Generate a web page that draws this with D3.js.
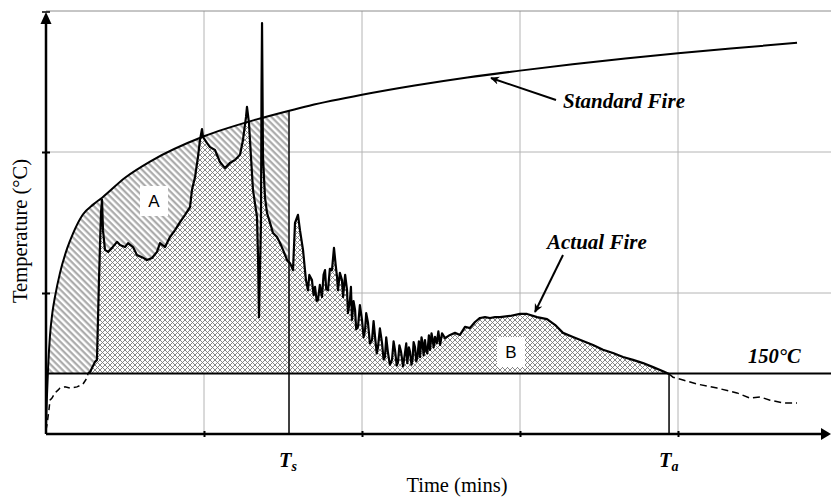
<!DOCTYPE html>
<html>
<head>
<meta charset="utf-8">
<script src="https://cdn.jsdelivr.net/npm/d3@7"></script>
<style>
  html, body { margin: 0; padding: 0; background: #fff; }
  svg { display: block; }
</style>
</head>
<body>
<svg id="chart" width="831" height="497"></svg>
<script>
// ---------------- data ----------------
const xTicks = [15, 30, 45, 60];          // minutes (unlabelled ticks)
const yTicks = [350, 700, 1050];          // °C (unlabelled ticks)
const limitTemp = 150;                    // 150°C threshold
const tS = 23.07;                         // T_s
const tA = 59.15;                         // T_a
const solidStart = 3.99;                  // actual fire drawn solid from here to T_a

const stdTime = [0, 0.1, 0.2, 0.38, 0.6, 0.85, 1.33, 2, 2.6, 3.5, 4.5, 5.3, 7.5, 10, 15, 20, 23, 25, 30, 35, 40, 45, 50, 55, 60, 65, 71.3];
const stdTemp = [20, 100, 165, 245, 300, 340, 400, 460, 500, 545, 570, 586, 636, 678, 739, 781, 802, 815, 842, 865, 885, 902, 918, 932, 945, 957, 971];

const actTime = [
  0, 0.09, 0.28, 0.38, 0.57, 0.85, 1.14, 1.33, 1.80, 2.28, 2.94, 3.51, 3.89, 3.99,
  4.18, 4.65, 4.84, 5.03, 5.22, 5.32, 5.41, 5.60, 5.89, 6.27, 6.74, 7.03, 7.50, 7.79, 8.26, 8.64,
  9.11, 9.59, 10.06, 10.54, 10.82, 11.30, 11.77, 12.25, 12.72, 13.20, 13.67, 13.86, 14.15, 14.43,
  14.62, 14.81, 14.91, 15.29, 15.57, 16.04, 16.52, 16.99, 17.47, 17.94, 18.42, 18.70, 18.99, 19.08,
  19.27, 19.46, 19.65, 20.03, 20.13, 20.22, 20.41, 20.46, 20.51, 20.60, 20.79, 20.98, 21.27, 21.55,
  21.93, 22.22, 22.50, 22.88, 23.17, 23.45, 23.64, 23.92, 24.11, 24.40,
  24.68, 24.87, 25.00, 25.25, 25.40, 25.54, 25.70, 25.82, 26.00, 26.20, 26.35, 26.49, 26.60, 26.77,
  26.95, 27.15, 27.34, 27.50, 27.63,
  27.72, 27.90, 28.10, 28.20, 28.40, 28.58, 28.67, 28.86, 28.95, 29.05, 29.20, 29.34, 29.45, 29.62,
  29.80, 30.00, 30.15, 30.29, 30.40, 30.57, 30.75, 30.95, 31.10, 31.24, 31.40, 31.52, 31.70, 31.90,
  32.05, 32.18, 32.30, 32.47, 32.65, 32.85, 33.00, 33.13, 33.30, 33.42, 33.55, 33.70, 33.90, 34.08,
  34.20, 34.30, 34.45, 34.56, 34.70, 34.80, 34.90, 35.03, 35.15, 35.25, 35.40, 35.51, 35.65, 35.75,
  35.85, 35.98, 36.10, 36.20, 36.35, 36.46, 36.60, 36.70, 36.80, 36.93, 37.10, 37.25, 37.41, 37.60,
  37.88, 38.36, 38.83, 39.30, 39.78, 40.25, 40.73, 41.20, 41.68, 42.15, 42.63, 43.10, 44.05,
  45.00, 45.67, 46.62, 47.57, 48.32, 49.08, 50.03, 50.98, 51.93, 52.88, 53.83, 54.78, 55.73, 56.68,
  57.63, 58.58, 59.15,
  59.53, 60.48, 61.81, 63.71, 65.60, 66.84, 67.79, 68.74, 69.97, 71.30
];
const actTemp = [
  10, 22, 60, 84, 89, 102, 109, 114, 117, 114, 117, 124, 139, 151,
  154, 179, 184, 382, 549, 581, 506, 457, 452, 462, 477, 469, 464, 474, 464, 444,
  439, 432, 437, 452, 474, 464, 489, 506, 526, 544, 563, 606, 638, 688,
  730, 757, 737, 722, 712, 705, 675, 660, 673, 680, 693, 730, 787, 812,
  772, 688, 606, 539, 439, 290, 524, 854, 1020, 688, 588, 549, 524, 499,
  489, 474, 457, 432, 424, 407, 524, 544, 506, 457,
  382, 357, 395, 382, 345, 365, 330, 333, 370, 340, 395, 407, 360, 357,
  410, 407, 462, 420, 390,
  357, 400, 382, 340, 395, 357, 300, 333, 365, 283, 330, 308, 260, 266,
  320, 283, 240, 258, 300, 276, 225, 233, 280, 241, 200, 216, 262, 226,
  185, 191, 240, 201, 172, 184, 230, 209, 170, 179, 220, 205, 168, 201,
  225, 176, 215, 204, 172, 184, 228, 216, 180, 190, 230, 191, 240, 226,
  195, 233, 205, 200, 245, 209, 250, 236, 215, 241, 225, 255, 221, 250,
  238, 246, 251, 246, 266, 263, 278, 288, 290, 288, 290, 290, 293,
  298, 298, 290, 285, 271, 251, 241, 231, 221, 209, 201, 191, 184, 176,
  166, 156, 149,
  141, 134, 124, 114, 102, 89, 92, 84, 77, 77
];

// ---------------- layout ----------------
const W = 831, H = 497;
const svg = d3.select("#chart");
const x = d3.scaleLinear().domain([0, 75]).range([46, 836]);
const y = d3.scaleLinear().domain([0, 1050]).range([434, 11]);

const std = stdTime.map((t, i) => ({t, v: stdTemp[i]}));
const act = actTime.map((t, i) => ({t, v: actTemp[i]}));

const defs = svg.append("defs");
// diagonal hatch for area A
const hp = 4.6;
const hatch = defs.append("pattern").attr("id", "hatchA")
  .attr("patternUnits", "userSpaceOnUse").attr("width", hp).attr("height", hp)
  .attr("patternTransform", "rotate(45)");
hatch.append("rect").attr("width", hp).attr("height", hp).attr("fill", "#fff");
hatch.append("line").attr("x1", 0).attr("y1", 1.2).attr("x2", hp).attr("y2", 1.2)
  .attr("stroke", "#a6a6a6").attr("stroke-width", 2.1);
// cross hatch for area B
const cp = 5;
const cross = defs.append("pattern").attr("id", "crossB")
  .attr("patternUnits", "userSpaceOnUse").attr("width", cp).attr("height", cp);
cross.append("rect").attr("width", cp).attr("height", cp).attr("fill", "#fff");
cross.append("path").attr("d", `M0,0L${cp},${cp}M${cp},0L0,${cp}`)
  .attr("stroke", "#7a7a7a").attr("stroke-width", 0.9).attr("fill", "none");

defs.append("clipPath").attr("id", "clipA").append("rect")
  .attr("x", x(0)).attr("y", 0).attr("width", x(tS) - x(0)).attr("height", y(limitTemp));
defs.append("clipPath").attr("id", "clipB").append("rect")
  .attr("x", x(solidStart)).attr("y", 0).attr("width", x(tA) - x(solidStart)).attr("height", y(limitTemp));

// arrow markers
const mk = defs.append("marker").attr("id", "arrow").attr("viewBox", "0 0 10 10")
  .attr("refX", 9).attr("refY", 5).attr("markerWidth", 9).attr("markerHeight", 9)
  .attr("markerUnits", "userSpaceOnUse").attr("orient", "auto");
mk.append("path").attr("d", "M0,0.5L10,5L0,9.5L3,5Z").attr("fill", "#000");

// ---------------- grid ----------------
const grid = svg.append("g");
grid.selectAll(".vg").data(xTicks).join("line")
  .attr("x1", d => x(d)).attr("x2", d => x(d)).attr("y1", y(1050)).attr("y2", y(0))
  .attr("stroke", "#b4b4b4").attr("stroke-width", 1);
grid.selectAll(".hg").data(yTicks).join("line")
  .attr("x1", x(0)).attr("x2", W).attr("y1", d => y(d)).attr("y2", d => y(d))
  .attr("stroke", d => d === 1050 ? "#8c8c8c" : "#b4b4b4").attr("stroke-width", 1);

// ---------------- areas ----------------
const areaStd = d3.area().x(d => x(d.t)).y0(y(limitTemp)).y1(d => y(d.v)).curve(d3.curveMonotoneX);
svg.append("path").datum(std.filter(d => d.t <= tS + 1)).attr("d", areaStd)
  .attr("fill", "url(#hatchA)").attr("clip-path", "url(#clipA)");

const areaAct = d3.area().x(d => x(d.t)).y0(y(limitTemp)).y1(d => y(d.v));
svg.append("path").datum(act.filter(d => d.t >= solidStart && d.t <= tA)).attr("d", areaAct)
  .attr("fill", "url(#crossB)").attr("clip-path", "url(#clipB)");

// ---------------- lines ----------------
const lineStd = d3.line().x(d => x(d.t)).y(d => y(d.v)).curve(d3.curveMonotoneX);
svg.append("path").datum(std).attr("d", lineStd)
  .attr("fill", "none").attr("stroke", "#000").attr("stroke-width", 2);

const lineAct = d3.line().x(d => x(d.t)).y(d => y(d.v));
svg.append("path").datum(act.filter(d => d.t <= solidStart)).attr("d", lineAct)
  .attr("fill", "none").attr("stroke", "#000").attr("stroke-width", 1.5).attr("stroke-dasharray", "6,4");
svg.append("path").datum(act.filter(d => d.t >= tA)).attr("d", lineAct)
  .attr("fill", "none").attr("stroke", "#000").attr("stroke-width", 1.5).attr("stroke-dasharray", "7,4");
svg.append("path").datum(act.filter(d => d.t >= solidStart && d.t <= tA)).attr("d", lineAct)
  .attr("fill", "none").attr("stroke", "#000").attr("stroke-width", 2.2).attr("stroke-linejoin", "round");

// 150°C line
svg.append("line").attr("x1", x(0)).attr("x2", W).attr("y1", y(limitTemp)).attr("y2", y(limitTemp))
  .attr("stroke", "#000").attr("stroke-width", 2);

// T_s and T_a verticals
const stdAtTs = d3.interpolateNumber(stdTemp[stdTime.indexOf(23)], stdTemp[stdTime.indexOf(25)])((tS - 23) / 2);
svg.append("line").attr("x1", x(tS)).attr("x2", x(tS)).attr("y1", y(stdAtTs)).attr("y2", y(0))
  .attr("stroke", "#000").attr("stroke-width", 1.5);
svg.append("line").attr("x1", x(tA)).attr("x2", x(tA)).attr("y1", y(limitTemp)).attr("y2", y(0))
  .attr("stroke", "#000").attr("stroke-width", 1.5);

// ---------------- axes ----------------
const xAxis = d3.axisBottom(x).tickValues(xTicks).tickFormat("").tickSize(6).tickSizeOuter(0);
const gx = svg.append("g").attr("transform", `translate(0,${y(0) - 3})`).call(xAxis);
gx.select(".domain").remove();
gx.selectAll(".tick line").attr("stroke", "#000").attr("stroke-width", 2);
const yAxis = d3.axisLeft(y).tickValues([350, 700]).tickFormat("").tickSize(8).tickSizeOuter(0);
const gy = svg.append("g").attr("transform", `translate(${x(0) + 4},0)`).call(yAxis);
gy.select(".domain").remove();
gy.selectAll(".tick line").attr("stroke", "#000").attr("stroke-width", 2);

// axis lines with arrows
svg.append("line").attr("x1", x(0)).attr("x2", 824).attr("y1", y(0)).attr("y2", y(0))
  .attr("stroke", "#000").attr("stroke-width", 2.5);
svg.append("path").attr("d", `M${W},${y(0)}L${W - 10},${y(0) - 6}L${W - 10},${y(0) + 6}Z`).attr("fill", "#000");
svg.append("line").attr("x1", x(0)).attr("x2", x(0)).attr("y1", y(0)).attr("y2", 20)
  .attr("stroke", "#000").attr("stroke-width", 2.5);
svg.append("path").attr("d", `M${x(0)},${y(1050) + 1}L${x(0) - 5.5},${y(1050) + 13}L${x(0) + 5.5},${y(1050) + 13}Z`).attr("fill", "#000");
svg.append("line").attr("x1", x(0) - 4).attr("x2", x(0) + 4).attr("y1", y(1050) + 1).attr("y2", y(1050) + 1)
  .attr("stroke", "#000").attr("stroke-width", 1.5);

// ---------------- labels ----------------
const serif = "'Liberation Serif', 'Times New Roman', serif";
svg.append("text").attr("x", 457).attr("y", 492).attr("text-anchor", "middle")
  .attr("font-family", serif).attr("font-size", 20.5).text("Time (mins)");
svg.append("text").attr("transform", "translate(27,231) rotate(-90)").attr("text-anchor", "middle")
  .attr("font-family", serif).attr("font-size", 20.5).text("Temperature (°C)");

const bi = (sel) => sel.attr("font-family", serif).attr("font-weight", "bold").attr("font-style", "italic");
bi(svg.append("text").attr("x", 563).attr("y", 108).attr("font-size", 21)).text("Standard Fire");
bi(svg.append("text").attr("x", 547).attr("y", 249).attr("font-size", 21)).text("Actual Fire");
bi(svg.append("text").attr("x", 748).attr("y", 363).attr("font-size", 20.5)).text("150°C");

const tsLab = bi(svg.append("text").attr("x", 279).attr("y", 467).attr("font-size", 20.5));
tsLab.append("tspan").text("T");
tsLab.append("tspan").attr("dy", 4).attr("font-size", 14).text("s");
const taLab = bi(svg.append("text").attr("x", 659).attr("y", 467).attr("font-size", 20.5));
taLab.append("tspan").text("T");
taLab.append("tspan").attr("dy", 4).attr("font-size", 14).text("a");

// annotation arrows
svg.append("line").attr("x1", 556).attr("y1", 100).attr("x2", 491).attr("y2", 78)
  .attr("stroke", "#000").attr("stroke-width", 2).attr("marker-end", "url(#arrow)");
svg.append("line").attr("x1", 563).attr("y1", 255).attr("x2", 535).attr("y2", 312)
  .attr("stroke", "#000").attr("stroke-width", 2).attr("marker-end", "url(#arrow)");

// region labels A and B
const sans = "'Liberation Sans', Arial, sans-serif";
[["A", 154, 201], ["B", 511, 352]].forEach(([s, cx, cy]) => {
  svg.append("rect").attr("x", cx - 14).attr("y", cy - 15).attr("width", 28).attr("height", 30).attr("fill", "#fff");
  svg.append("text").attr("x", cx).attr("y", cy + 6).attr("text-anchor", "middle")
    .attr("font-family", sans).attr("font-size", 17).text(s);
});
</script>
</body>
</html>
